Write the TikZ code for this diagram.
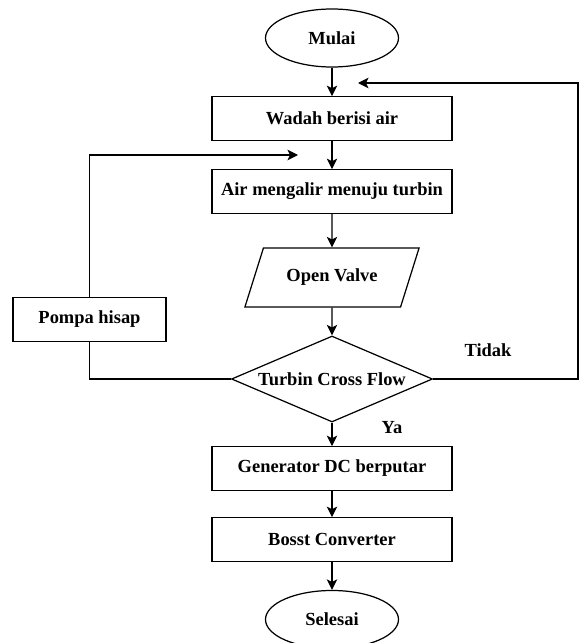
\documentclass[tikz,border=0pt]{standalone}
\usepackage{fontspec}
\setmainfont{Liberation Serif}
\usetikzlibrary{shapes,shapes.geometric,arrows,arrows.meta,positioning,calc}

\begin{document}
\begin{tikzpicture}[
    box/.style={rectangle, draw, line width=0.7pt, minimum width=#1, minimum height=0.87cm, align=center, font=\bfseries\fontsize{10.5}{12}\selectfont},
    box/.default=4.8cm,
    term/.style={ellipse, draw, line width=0.7pt, minimum width=2.66cm, minimum height=1.16cm, font=\bfseries\fontsize{10.5}{12}\selectfont},
    io/.style={trapezium, trapezium left angle=64, trapezium right angle=116, trapezium stretches=true, draw, line width=0.7pt, minimum width=3.5cm, minimum height=1.18cm, font=\bfseries\fontsize{10.5}{12}\selectfont},
    decision/.style={diamond, draw, line width=0.7pt, aspect=2.34, inner sep=0pt, minimum width=4.02cm, minimum height=1.72cm, font=\bfseries\fontsize{10.5}{12}\selectfont},
    lbl/.style={font=\bfseries\fontsize{10.5}{12}\selectfont},
    arrow/.style={->, >={Stealth[length=2.1mm, width=2.1mm, inset=0.5mm]}, line width=0.7pt},
    line/.style={line width=0.7pt}
]
    \useasboundingbox (0,0) rectangle (11.58,12.86);

    % Flow Steps
    \node[term] (mulai) at (6.64,12.10) {Mulai};
    \node[box] (wadah) at (6.64,10.49) {Wadah berisi air};
    \node[box] (air) at (6.64,9.03) {Air mengalir menuju turbin};
    \node[io] (valve) at (6.64,7.31) {Open Valve};
    \node[decision] (turbin) at (6.64,5.28) {Turbin Cross Flow};
    \node[box] (gen) at (6.64,3.49) {Generator DC berputar};
    \node[box] (boost) at (6.64,2.07) {Bosst Converter};
    \node[term] (selesai) at (6.64,0.47) {Selesai};
    \node[box=3.06cm] (pompa) at (1.79,6.47) {Pompa hisap};

    % Connections
    \draw[arrow] (mulai) -- (wadah);
    \draw[arrow] (wadah) -- (air);
    \draw[arrow] (air) -- (valve);
    \draw[arrow] (valve) -- (turbin);
    \draw[arrow] (turbin) -- (gen);
    \draw[arrow] (gen) -- (boost);
    \draw[arrow] (boost) -- (selesai);

    % Loops back
    \coordinate (backL) at (5.96,9.76);
    \coordinate (backR) at (7.16,11.20);
    \coordinate (edgeR) at (11.56,11.20);
    \draw[line] (turbin.west) -| (pompa.south);
    \draw[arrow] (pompa.north) |- (backL);
    \draw[arrow] (turbin.east) -| (edgeR) -- (backR);

    % Decision Labels
    \node[lbl] (tidak) at (9.76,5.86) {Tidak};
    \node[lbl] (ya) at (7.84,4.30) {Ya};
\end{tikzpicture}
\end{document}
